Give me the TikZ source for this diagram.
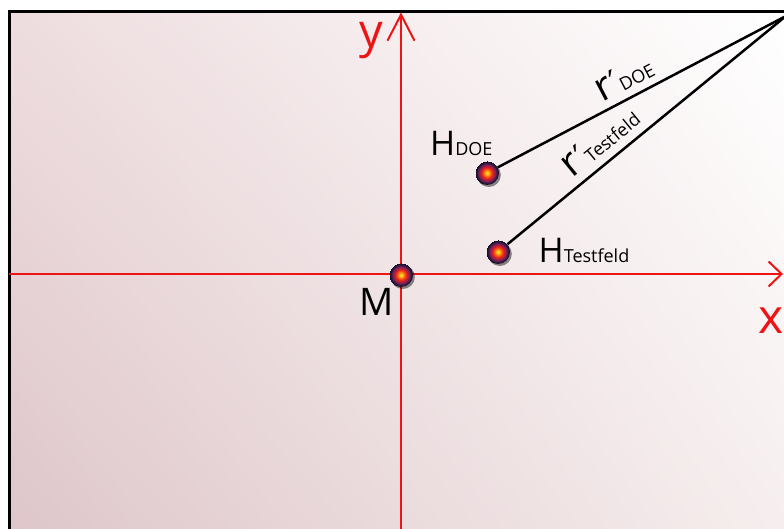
\documentclass[tikz,border=0pt]{standalone}
\usepackage{fontspec}
\setmainfont{Open Sans}
\newfontfamily\primefont{DejaVu Sans}
\usetikzlibrary{arrows.meta,shadows,shadings}
\definecolor{axisred}{RGB}{236,20,20}
\definecolor{bgUL}{RGB}{238,221,223}
\definecolor{bgUR}{RGB}{255,255,255}
\definecolor{bgLL}{RGB}{222,198,202}
\definecolor{bgLR}{RGB}{246,238,238}
\definecolor{ballA}{RGB}{255,235,60}
\definecolor{ballB}{RGB}{255,170,20}
\definecolor{ballC}{RGB}{245,65,20}
\definecolor{ballD}{RGB}{210,25,40}
\definecolor{ballE}{RGB}{125,35,90}
\definecolor{ballF}{RGB}{50,25,65}
\definecolor{ballG}{RGB}{15,10,25}
\pgfdeclareradialshading{ballshade}{\pgfpoint{0bp}{0bp}}{color(0bp)=(ballA); color(4bp)=(ballB); color(9bp)=(ballC); color(13bp)=(ballD); color(17bp)=(ballE); color(21bp)=(ballF); color(25bp)=(ballG)}
\tikzset{
  axis/.style={draw=axisred, line width=2pt},
  leg/.style={draw=black, line width=2.5pt},
  ballnode/.style={circle, minimum size=24pt, inner sep=0pt, shading=ballshade,
    drop shadow={shadow xshift=1.8pt, shadow yshift=-2pt, opacity=0.45, fill=black}},
  redlabel/.style={text=axisred, inner sep=0pt, anchor=base west, font=\fontsize{47}{47}\selectfont},
  blklabel/.style={text=black, inner sep=0pt, anchor=base west},
}
\newcommand{\bigH}[1]{{\fontsize{#1}{#1}\selectfont H}}
\newcommand{\smallsub}[2]{{\fontsize{#1}{#1}\selectfont #2}}
\newcommand{\rprime}{{\fontsize{40}{40}\selectfont r\kern1pt{\primefont\fontsize{34}{34}\selectfont ′}\kern-1pt}}
\begin{document}
\begin{tikzpicture}[x=1pt,y=-1pt]
\useasboundingbox (0,0) rectangle (784,529);
\clip (0,0) rectangle (784,529);
% background
\shade[upper left=bgUL, upper right=bgUR, lower left=bgLL, lower right=bgLR] (9,12) rectangle (784,529);
% frame
\draw[line width=3pt] (9,531) -- (9,12) -- (786,12);
% axes
\coordinate (ybot) at (401,532);
\coordinate (ytop) at (401,12.5);
\coordinate (xleft) at (9,274);
\coordinate (xright) at (783,274);
\draw[axis, -{Straight Barb[length=26pt,width=27pt]}] (ybot) -- (ytop);
\draw[axis, -{Straight Barb[length=13pt,width=25pt]}] (xleft) -- (xright);
% labels of axes
\node[redlabel] (ylab) at (359,48) {y};
\node[redlabel, font=\fontsize{48}{48}\selectfont] (xlab) at (758,333) {x};
% apex
\coordinate (apex) at (786,16);
% balls
\node[ballnode] (M) at (401,275) {};
\node[ballnode] (hdoe) at (487,173) {};
\node[ballnode] (htest) at (498,252) {};
% legs
\draw[leg] (hdoe) -- node[pos=0.47, sloped, above=7pt, inner sep=0pt] (rdoe)
  {\rprime\smallsub{18}{DOE}} (apex);
\draw[leg] (htest) -- node[pos=0.38, sloped, above=8pt, inner sep=0pt] (rtest)
  {\rprime\smallsub{18}{Testfeld}} (apex);
% point labels
\node[blklabel, font=\fontsize{38}{38}\selectfont] (Mlab) at (359,315) {M};
\node[blklabel] (hdoelab) at (430,156) {\bigH{34}\smallsub{18}{DOE}};
\node[blklabel] (htestlab) at (538.5,262) {\bigH{34}\smallsub{18}{Testfeld}};
\end{tikzpicture}
\end{document}
